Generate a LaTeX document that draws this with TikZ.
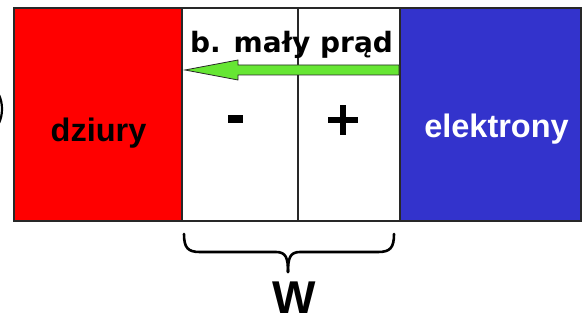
\documentclass[tikz,border=0pt]{standalone}
\usepackage{fontspec}
\setmainfont{Liberation Sans}
\newfontfamily\djv{DejaVu Sans}
\definecolor{pred}{RGB}{255,0,0}
\definecolor{pblue}{RGB}{51,51,204}
\definecolor{pgreen}{RGB}{102,230,51}
\definecolor{pedge}{RGB}{40,40,40}
\begin{document}
\begin{tikzpicture}[x=1pt,y=-1pt,
  region/.style={draw=pedge,line width=1.2pt},
  lbl/.style={inner sep=0pt,anchor=base,font=\bfseries}]
\useasboundingbox (0,0) rectangle (585,320);
\fill[white] (0,0) rectangle (585,320);
% regions
\filldraw[region,fill=pred] (14,8) rectangle (182,221);
\filldraw[region,fill=white] (182,8) rectangle (400,221);
\filldraw[region,fill=pblue] (400,8) rectangle (581,221);
\draw[pedge,line width=1.2pt] (298,8) -- (298,221);
% cut glyph at left edge
\draw[black,line width=2.2pt] (-1,95) .. controls (3,103) and (3,115) .. (-1,123);
% labels
\node[lbl,font=\bfseries\fontsize{32.5}{32.5}\selectfont] (dz) at (98.5,142) {dziury};
\node[lbl,text=white,font=\bfseries\fontsize{32.5}{32.5}\selectfont] (el) at (496.5,138) {elektrony};
\node[lbl,font=\djv\bfseries\fontsize{28}{28}\selectfont] (cur) at (291.5,53) {b. mały prąd};
% minus and plus
\fill[black] (228,115) rectangle (243,123);
\fill[black] (328,117) rectangle (358,123);
\fill[black] (340,105) rectangle (346,135);
% arrow
\filldraw[fill=pgreen,draw=pedge,line width=0.8pt]
  (185,70) -- (238,60) -- (238,65) -- (399,65) -- (399,75) -- (238,75) -- (238,80) -- cycle;
% brace
\draw[black,line width=2.6pt,line cap=round]
  (184,234) .. controls (184,248) and (188,252) .. (200,252) -- (276,252)
  .. controls (286,252) and (288,258) .. (288,272);
\draw[black,line width=2.6pt,line cap=round]
  (394,234) .. controls (394,248) and (390,252) .. (378,252) -- (300,252)
  .. controls (290,252) and (288,258) .. (288,272);
\node[lbl,font=\bfseries\fontsize{46}{46}\selectfont] (w) at (294.5,313) {W};
\end{tikzpicture}
\end{document}
